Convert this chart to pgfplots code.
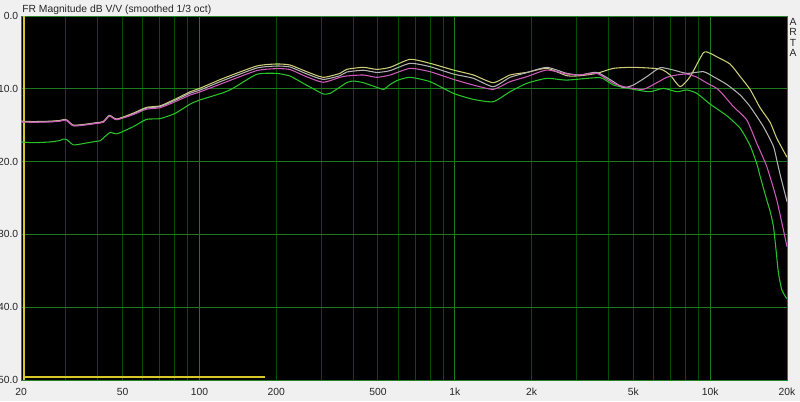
\documentclass[border=0pt]{standalone}
\usepackage{fontspec}
\setmainfont{Liberation Sans}
\usepackage{pgfplots}
\pgfplotsset{compat=1.18}

\definecolor{bgc}{RGB}{240,240,240}
\definecolor{yelc}{RGB}{205,205,120}
\definecolor{gryc}{RGB}{178,178,178}
\definecolor{pnkc}{RGB}{205,90,185}
\definecolor{grnc}{RGB}{40,195,40}
\definecolor{markyel}{RGB}{215,200,40}
\definecolor{gridhi}{RGB}{30,120,30}
\definecolor{gridlo}{RGB}{0,78,0}
\definecolor{framec}{RGB}{40,130,40}
\newcommand\lbl{\fontsize{7.75}{9.3}\selectfont}

\begin{document}
\begin{tikzpicture}
\path[use as bounding box, fill=bgc] (-15.75pt,-15.75pt) rectangle (584.25pt,285pt);
\begin{axis}[
    at={(0,0)}, anchor=south west,
    scale only axis, width=574.5pt, height=273pt,
    xmode=log, xmin=20, xmax=20000,
    ymin=0, ymax=50, y dir=reverse,
    axis background/.style={fill=black},
    axis line style={draw=framec, line width=0.75pt},
    major tick length=0pt, minor tick length=0pt,
    xtick={20,50,100,200,500,1000,2000,5000,10000,20000},
    xticklabels={20,50,100,200,500,1k,2k,5k,10k,20k},
    minor xtick={30,40,50,60,70,80,90,200,300,400,500,600,700,800,900,
                 2000,3000,4000,5000,6000,7000,8000,9000},
    extra x ticks={100,1000,10000},
    extra x tick labels={},
    extra x tick style={grid=major},
    ytick={0,10,20,30,40,50},
    yticklabels={0.0,10.0,20.0,30.0,40.0,50.0},
    xmajorgrids=false, xminorgrids=true, ymajorgrids=true,
    major grid style={color=gridhi, line width=0.75pt},
    minor grid style={color=gridlo, line width=0.75pt},
    ticklabel style={font=\lbl, text=black!85},
    xticklabel style={yshift=-2.7pt},
    yticklabel style={xshift=1.4pt},
    every axis plot/.append style={line width=0.8pt, line join=round, smooth, tension=0.35},
]
% markers
\addplot[color=markyel, line width=0.9pt, sharp plot] coordinates {(20.55,0) (20.55,50)};
\addplot[color=markyel, line width=0.9pt, sharp plot] coordinates {(20.55,49.6) (181,49.6)};
% green
\addplot[color=grnc] coordinates {
(20,17.3) (22.3,17.4) (26,17.3) (28.4,17.1) (29.3,16.9) (30.3,17.0) (32.1,17.7)
(36,17.45) (39.6,17.2) (40.8,17.15) (44.6,16.0) (47.4,16.2) (55,15.2) (62,14.2)
(70,14.1) (80,13.4) (92,12.09) (100,11.55) (124,10.53) (135,9.95) (167.6,8.01)
(200,7.88) (226,8.24) (255,9.25) (288,10.26) (305,10.71) (325,10.62) (377,9.16)
(400,8.93) (438,9.16) (495,9.8) (527,10.07) (558,9.4) (600,8.8) (668,8.42)
(800,9.02) (987,10.62) (1182,11.45) (1414,11.77) (1646,10.4) (1914,9.25)
(2292,8.56) (2746,8.8) (3707,8.47) (4180,9.48) (5160,10.16) (5818,10.4)
(6560,9.94) (7404,10.4) (8100,10.16) (8866,10.62) (10000,12.1) (11620,13.7)
(13100,15.4) (14340,17.8) (15232,20.3) (15690,22.0) (16670,25.3) (17170,26.8)
(17690,28.9) (18100,32) (18510,35.3) (19080,37.6) (19840,38.7) (20000,38.8)
};
% yellow
\addplot[color=yelc] coordinates {
(20,14.45) (22.3,14.5) (26,14.45) (28.4,14.35) (29.5,14.2) (30.3,14.3) (32.1,15.0)
(36,14.85) (39.6,14.65) (42,14.5) (44.4,13.65) (47.4,14.15) (55,13.35) (62,12.55)
(70,12.35) (80,11.45) (92,10.4) (100,9.95) (124,8.56) (167.6,6.87) (200,6.59)
(226,6.73) (263,7.65) (305,8.42) (355,7.88) (377,7.33) (438,7.05) (495,7.33)
(558,7.05) (668,5.95) (800,6.5) (987,7.42) (1182,8.1) (1414,9.16) (1646,8.1)
(1914,7.74) (2292,7.19) (2746,8.2) (3095,8.2) (3598,7.88) (4180,7.19) (5004,7.05)
(6368,7.28) (6968,8.1) (7626,9.71) (8346,8.33) (9411,5.04) (10000,5.13)
(10617,5.6) (11968,6.6) (13100,8.3) (14340,10.1) (15690,12.6) (17170,14.6)
(18240,16.8) (20000,19.4)
};
% gray
\addplot[color=gryc] coordinates {
(20,14.5) (22.3,14.55) (26,14.5) (28.4,14.4) (29.5,14.25) (30.3,14.35) (32.1,15.05)
(36,14.9) (39.6,14.7) (42,14.55) (44.4,13.7) (47.4,14.2) (55,13.45) (62,12.65)
(70,12.45) (80,11.6) (92,10.6) (100,10.2) (124,8.85) (167.6,7.15) (200,6.87)
(226,7.0) (263,7.95) (305,8.7) (355,8.2) (377,7.7) (438,7.45) (495,7.75) (558,7.5)
(668,6.5) (800,6.96) (987,7.97) (1182,8.56) (1414,9.71) (1646,8.42) (1914,7.78)
(2292,7.05) (2746,7.88) (3095,8.1) (3598,7.74) (4180,9.02) (4572,9.84) (5004,9.48)
(5648,8.33) (6368,7.1) (7178,7.42) (8100,7.88) (9411,7.65) (10298,8.33)
(11620,9.4) (13100,10.85) (14340,12.45) (16166,15.2) (17690,17.9) (18240,19.8)
(18800,21.8) (19340,23.5) (20000,25.5)
};
% pink
\addplot[color=pnkc] coordinates {
(20,14.55) (22.3,14.6) (26,14.55) (28.4,14.45) (29.5,14.3) (30.3,14.4) (32.1,15.1)
(36,14.95) (39.6,14.75) (42,14.6) (44.4,13.75) (47.4,14.25) (55,13.55) (62,12.8)
(70,12.6) (80,11.8) (92,10.85) (100,10.45) (124,9.2) (167.6,7.5) (200,7.23)
(226,7.35) (263,8.35) (305,9.1) (355,8.42) (377,8.24) (438,8.1) (495,8.42)
(558,8.1) (668,7.19) (800,7.65) (987,8.7) (1182,9.48) (1414,10.07) (1646,9.02)
(1914,8.33) (2292,7.42) (2746,7.97) (3095,8.1) (3598,7.88) (4180,9.25) (4716,9.8)
(5477,10.07) (6180,9.16) (6764,8.42) (7404,8.1) (8100,7.97) (8866,8.4) (9704,9.2)
(10617,9.94) (11270,10.85) (12332,12.45) (13920,14.3) (15232,17.5) (16670,20.7)
(18240,25.3) (20000,31.7)
};
\end{axis}
\node[anchor=base west, inner sep=0pt, font=\lbl, text=black!85]
  at ([xshift=0.75pt,yshift=2.6pt]current axis.north west)
  {FR Magnitude dB V/V (smoothed 1/3 oct)};
\node[anchor=north, inner sep=0pt, align=center, font=\fontsize{7.75}{7.9}\selectfont, text=black!85]
  at ([xshift=4.6pt,yshift=-1.5pt]current axis.north east) {A\\R\\T\\A};
\end{tikzpicture}
\end{document}
